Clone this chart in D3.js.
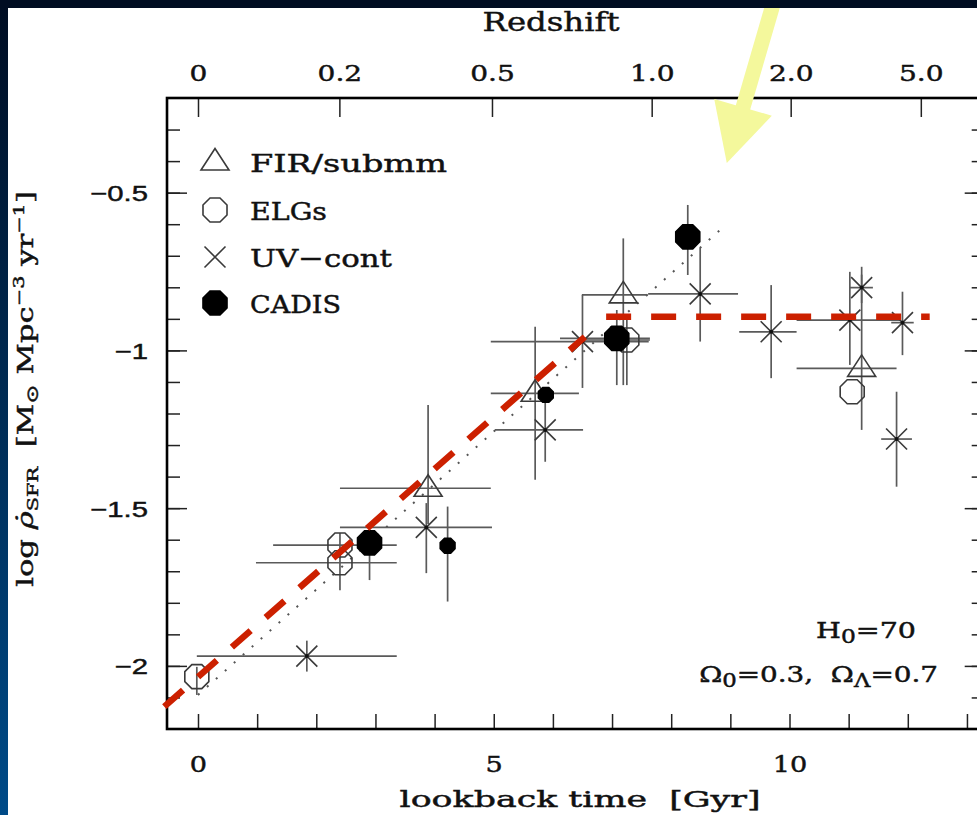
<!DOCTYPE html>
<html>
<head>
<meta charset="utf-8">
<script src="https://cdn.jsdelivr.net/npm/d3@7"></script>
<style>
  html, body { margin: 0; padding: 0; background: #001a33; }
  svg { display: block; }
</style>
</head>
<body>
<svg id="chart" width="977" height="815"></svg>
<script>
// rows: lookback time [Gyr], log SFR density, time lo, time hi, log lo, log hi (null = no bar)
let firSubmm = [
  [3.89, -1.437, 2.40, 4.95, -1.173, -1.55],
  [5.70, -1.136, 4.95, 6.44, -0.925, -1.41],
  [7.19, -0.824, 6.49, 7.60, -0.645, -1.11],
  [11.22, -1.057, 10.12, 11.81, -0.735, -1.252]
];
let elgs = [
  [-0.02, -2.034, null, null, -2.003, -2.092],
  [2.40, -1.617, 1.27, 3.36, -1.579, -1.66],
  [2.40, -1.673, 0.98, 3.36, -1.64, -1.76],
  [7.25, -0.967, 6.49, 7.64, -0.90, -1.11],
  [11.06, -1.131, null, null, null, null]
];
let uvCont = [
  [1.84, -1.969, -0.02, 3.36, -1.92, -2.018],
  [3.86, -1.561, 2.40, 4.97, -1.484, -1.706],
  [5.87, -1.252, 5.02, 6.51, -1.141, -1.353],
  [6.50, -0.972, 4.95, 7.62, -0.824, -1.119],
  [8.49, -0.821, 7.61, 9.13, -0.675, -0.972],
  [9.69, -0.941, 9.15, 10.12, -0.793, -1.088],
  [11.02, -0.904, 10.12, 11.87, -0.751, -1.046],
  [11.22, -0.801, 11.02, 11.41, -0.76, -0.85],
  [11.91, -0.912, 11.72, 12.10, -0.814, -1.015],
  [11.81, -1.281, 11.55, 12.07, -1.131, -1.432]
];
let cadisBig = [
  [2.90, -1.61, null, null, -1.56, -1.728],
  [7.08, -0.962, 6.12, 7.64, -0.872, -1.11],
  [8.28, -0.64, null, null, -0.539, -0.761]
];
let cadisSmall = [
  [5.88, -1.141, null, null, null, null],
  [4.22, -1.619, null, null, -1.495, -1.796]
];

let dottedFit = [[0.0, -2.092], [8.93, -0.601]];
let redRise = [[-0.57, -2.129], [6.54, -0.957]];
let redFlat = [[6.90, -0.893], [12.37, -0.893]];

let redshiftLabels = ['0', '0.2', '0.5', '1.0', '2.0', '5.0'];
let redshiftLookback = [0, 2.39, 4.97, 7.67, 10.02, 12.22];
let timeTicks = d3.range(0, 14);
let timeLabels = [0, 5, 10];
let logMajor = [-2, -1.5, -1, -0.5];
let logMinor = d3.range(-21, -2).map(i => i / 10);
let legendNames = ['FIR/submm', 'ELGs', 'UV\u2212cont', 'CADIS'];

// yellow arrow (tail above the picture, tip inside plot), in data units
let arrowTail = [9.82, 0.16];
let arrowTip = [8.94, -0.406];

let W = 977, H = 815;
let svg = d3.select('#chart');
let serif = '"DejaVu Serif", "Liberation Serif", serif';
let sans = '"Liberation Sans", Arial, sans-serif';

let defs = svg.append('defs');
let grad = defs.append('linearGradient').attr('id', 'bg')
  .attr('x1', 0).attr('y1', 0).attr('x2', 0).attr('y2', 1);
grad.append('stop').attr('offset', '0%').attr('stop-color', '#000d22');
grad.append('stop').attr('offset', '100%').attr('stop-color', '#004b88');
svg.append('rect').attr('width', W).attr('height', H).attr('fill', 'url(#bg)');
svg.append('rect').attr('x', 8).attr('y', 8).attr('width', W - 8).attr('height', H - 8).attr('fill', '#fff');

let x = d3.scaleLinear().domain([0, 10]).range([198, 789.5]);
let y = d3.scaleLinear().domain([-2.2, -0.2]).range([729, 98]);
let frameL = x(-0.524), frameR = x(13.3), frameT = y(-0.2), frameB = y(-2.2);

// stretch a text horizontally so that it has a given width
let fitText = (parent, transform, anchor, width, size, family, segs) => {
  let g = parent.append('g').attr('transform', transform);
  let t = g.append('text')
    .attr('text-anchor', anchor)
    .attr('font-family', family)
    .attr('font-size', size)
    .attr('fill', '#111')
    .attr('stroke', '#111').attr('stroke-width', 0.45)
    .style('white-space', 'pre');
  let shift = 0;
  segs.forEach(s => {
    let want = s.dy || 0;
    let sp = t.append('tspan').text(s.text).attr('dy', want - shift);
    if (s.size) sp.attr('font-size', s.size);
    if (s.italic) sp.attr('font-style', 'italic');
    shift = want;
  });
  let L = t.node().getComputedTextLength();
  t.attr('transform', 'scale(' + (width / L) + ',1)');
  return g;
};

// axes
let styleTicks = g => {
  g.select('.domain').remove();
  g.selectAll('.tick line').attr('stroke', '#222').attr('stroke-width', 1.5);
};
let tickFont = (sel, family, size) => sel
  .attr('font-family', family).attr('font-size', size)
  .attr('fill', '#111').attr('stroke', '#111').attr('stroke-width', 0.45);

svg.append('g')
  .attr('transform', 'translate(0,' + frameB + ')')
  .call(d3.axisBottom(x).tickValues(timeTicks).tickSizeInner(-15).tickSizeOuter(0)
    .tickFormat(d => timeLabels.includes(d) ? d : ''))
  .call(styleTicks)
  .call(g => g.selectAll('.tick text')
    .attr('y', 43).attr('dy', null)
    .attr('transform', 'scale(1.18,1)')
    .call(tickFont, serif, 23));

svg.append('g')
  .attr('transform', 'translate(0,' + frameT + ')')
  .call(d3.axisTop(x).tickValues(redshiftLookback).tickSizeInner(-19).tickSizeOuter(0)
    .tickFormat((d, i) => redshiftLabels[i]))
  .call(styleTicks)
  .call(g => g.selectAll('.tick text')
    .attr('y', -17).attr('dy', null)
    .attr('transform', 'scale(1.22,1)')
    .call(tickFont, serif, 23));

svg.append('g')
  .attr('transform', 'translate(' + frameL + ',0)')
  .call(d3.axisLeft(y).tickValues(logMinor).tickSizeInner(-13).tickSizeOuter(0).tickFormat(''))
  .call(styleTicks);
svg.append('g')
  .attr('transform', 'translate(' + frameL + ',0)')
  .call(d3.axisLeft(y).tickValues(logMajor).tickSizeInner(-20).tickSizeOuter(0)
    .tickFormat(d => String(d).replace('-', '\u2212')))
  .call(styleTicks)
  .call(g => g.selectAll('.tick text')
    .attr('x', 0).attr('dy', '0.36em')
    .attr('text-anchor', 'end')
    .attr('transform', 'translate(-19,0) scale(1.33,1)')
    .call(tickFont, sans, 22));

svg.append('g')
  .attr('transform', 'translate(' + frameR + ',0)')
  .call(d3.axisRight(y).tickValues(logMinor).tickSizeInner(-13).tickSizeOuter(0).tickFormat(''))
  .call(styleTicks);
svg.append('g')
  .attr('transform', 'translate(' + frameR + ',0)')
  .call(d3.axisRight(y).tickValues(logMajor).tickSizeInner(-20).tickSizeOuter(0).tickFormat(''))
  .call(styleTicks);

svg.append('rect')
  .attr('x', frameL).attr('y', frameT)
  .attr('width', frameR - frameL).attr('height', frameB - frameT)
  .attr('fill', 'none').attr('stroke', '#000').attr('stroke-width', 2.6);

// titles
fitText(svg, 'translate(551,31)', 'middle', 137, 26, serif, [{text: 'Redshift'}]);
fitText(svg, 'translate(580,807)', 'middle', 361, 23, serif, [{text: 'lookback time  [Gyr]'}]);
fitText(svg, 'translate(33,389) rotate(-90)', 'middle', 396, 22, serif, [
  {text: 'log '},
  {text: 'ρ\u0307', italic: true},
  {text: 'SFR', size: 15, dy: 5},
  {text: '  [M'},
  {text: '\u2299', size: 17, dy: 5},
  {text: ' Mpc'},
  {text: '\u22123', size: 15, dy: -9},
  {text: ' yr'},
  {text: '\u22121', size: 15, dy: -9},
  {text: ']'}
]);
fitText(svg, 'translate(916,638)', 'end', 100, 22, serif, [
  {text: 'H'}, {text: '0', size: 18, dy: 5}, {text: '=70'}
]);
fitText(svg, 'translate(938,682)', 'end', 239, 22, serif, [
  {text: '\u03a9'}, {text: '0', size: 18, dy: 5}, {text: '=0.3,  \u03a9'},
  {text: '\u039b', size: 18, dy: 5}, {text: '=0.7'}
]);

// marker shapes
let octagon = r => d3.line()(d3.range(8).map(k => {
  let a = Math.PI / 8 + k * Math.PI / 4;
  return [r * Math.cos(a), r * Math.sin(a)];
})) + 'Z';
let triangle = 'M-14,8L14,8L0,-13.5Z';
let cross = 'M-10.5,-10.5L10.5,10.5M-10.5,10.5L10.5,-10.5';

let plot = svg.append('g');

// dotted fit
plot.append('path')
  .attr('d', d3.line().x(d => x(d[0])).y(d => y(d[1]))(dottedFit))
  .attr('stroke', '#555').attr('stroke-width', 2).attr('fill', 'none')
  .attr('stroke-dasharray', '2 10');

// error bars
let bars = plot.append('g').attr('stroke', '#5a5a5a').attr('stroke-width', 1.7);
let allSets = [firSubmm, elgs, uvCont, cadisBig, cadisSmall];
allSets.forEach(set => {
  bars.selectAll(null).data(set.filter(d => d[2] != null)).join('line')
    .attr('x1', d => x(d[2])).attr('x2', d => x(d[3]))
    .attr('y1', d => y(d[1])).attr('y2', d => y(d[1]));
  bars.selectAll(null).data(set.filter(d => d[4] != null)).join('line')
    .attr('x1', d => x(d[0])).attr('x2', d => x(d[0]))
    .attr('y1', d => y(d[4])).attr('y2', d => y(d[5]));
});

let drawMarks = (set, shape, fill) => {
  plot.append('g').selectAll('path').data(set).join('path')
    .attr('transform', d => 'translate(' + x(d[0]) + ',' + y(d[1]) + ')')
    .attr('d', shape)
    .attr('fill', fill)
    .attr('stroke', fill === 'none' ? '#3a3a3a' : '#000')
    .attr('stroke-width', 1.6);
};
drawMarks(uvCont, cross, 'none');
plot.append('g').selectAll('circle').data(uvCont).join('circle')
  .attr('cx', d => x(d[0])).attr('cy', d => y(d[1])).attr('r', 2).attr('fill', '#111');
drawMarks(elgs, octagon(13), 'none');
drawMarks(firSubmm, triangle, 'none');
drawMarks(cadisBig, octagon(13), '#000');
drawMarks(cadisSmall, octagon(8), '#000');

// red dashed lines
[redRise, redFlat].forEach(seg => {
  plot.append('path')
    .attr('d', d3.line().x(d => x(d[0])).y(d => y(d[1]))(seg))
    .attr('stroke', '#cc2000').attr('stroke-width', 6.5).attr('fill', 'none')
    .attr('stroke-dasharray', '25 20');
});

// legend
let legendRows = [162, 210, 257, 303];
let legendShapes = [triangle, octagon(13), cross, octagon(13)];
let legendWidths = [197, 77, 142, 91];
let legend = svg.append('g');
legendNames.forEach((name, i) => {
  legend.append('path')
    .attr('transform', 'translate(215,' + legendRows[i] + ')')
    .attr('d', legendShapes[i])
    .attr('fill', i === 3 ? '#000' : 'none')
    .attr('stroke', i === 3 ? '#000' : '#3a3a3a')
    .attr('stroke-width', 1.6);
  fitText(legend, 'translate(250,' + (legendRows[i] + 10) + ')', 'start', legendWidths[i], 25, serif, [{text: name}]);
});

// yellow arrow
let tip = [x(arrowTip[0]), y(arrowTip[1])];
let tail = [x(arrowTail[0]), y(arrowTail[1])];
let len = Math.hypot(tail[0] - tip[0], tail[1] - tip[1]);
let ux = (tail[0] - tip[0]) / len, uy = (tail[1] - tip[1]) / len;
let base = [tip[0] + ux * 58, tip[1] + uy * 58];
let px = -uy, py = ux;
svg.append('line')
  .attr('x1', base[0] + ux * -2).attr('y1', base[1] + uy * -2)
  .attr('x2', tail[0]).attr('y2', tail[1])
  .attr('stroke', '#f4f89c').attr('stroke-width', 15);
svg.append('path')
  .attr('d', d3.line()([tip, [base[0] + px * 30, base[1] + py * 30], [base[0] - px * 30, base[1] - py * 30]]) + 'Z')
  .attr('fill', '#f4f89c');
// redraw the top border strip over the arrow tail
svg.append('rect').attr('width', W).attr('height', 8).attr('fill', '#000d22');
</script>
</body>
</html>
